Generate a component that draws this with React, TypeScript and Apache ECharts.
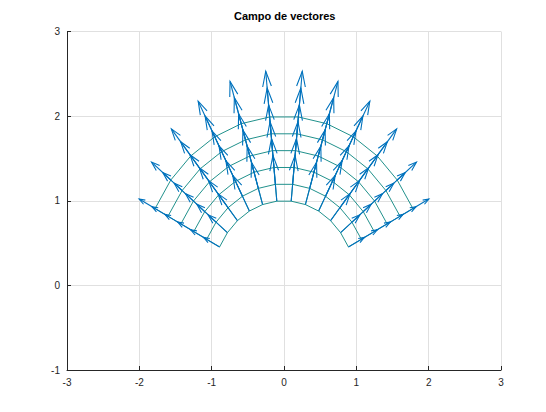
import React, { useEffect, useRef } from "react";
import * as echarts from "echarts";

// Mesh: polar grid (radius, angle in degrees)
const radii = [1, 1.2, 1.4, 1.6, 1.8, 2];
const anglesDeg = [27, 38.5, 49.9, 61.4, 72.8, 84.3, 95.7, 107.2, 118.6, 130.1, 141.5, 153];
// Arrow length (data units) for each angular column
const arrowLengths = [0.248, 0.34, 0.418, 0.479, 0.522, 0.543, 0.543, 0.522, 0.479, 0.418, 0.34, 0.248];

const titleText = "Campo de vectores";
const xRange = [-3, 3];
const yRange = [-1, 3];
const tickStep = 1;

const HEAD_LEN = 1 / 3;
const HEAD_HALF = 1 / 9;

function node(i: number, j: number): [number, number] {
  const t = (anglesDeg[i] * Math.PI) / 180;
  return [radii[j] * Math.cos(t), radii[j] * Math.sin(t)];
}

function buildMesh() {
  const out: { coords: [number, number][] }[] = [];
  for (let j = 0; j < radii.length; j++) {
    out.push({ coords: anglesDeg.map((_, i) => node(i, j)) });
  }
  for (let i = 0; i < anglesDeg.length; i++) {
    out.push({ coords: radii.map((_, j) => node(i, j)) });
  }
  return out;
}

function buildArrows() {
  const out: { coords: [number, number][] }[] = [];
  for (let i = 0; i < anglesDeg.length; i++) {
    const t = (anglesDeg[i] * Math.PI) / 180;
    const L = arrowLengths[i];
    const u = L * Math.cos(t);
    const v = L * Math.sin(t);
    for (let j = 0; j < radii.length; j++) {
      const [x, y] = node(i, j);
      const xe = x + u;
      const ye = y + v;
      out.push({ coords: [[x, y], [xe, ye]] });
      const xt = x + u * (1 - HEAD_LEN);
      const yt = y + v * (1 - HEAD_LEN);
      const a1: [number, number] = [xt + (y - ye) * HEAD_HALF, yt - (x - xe) * HEAD_HALF];
      const a2: [number, number] = [xt - (y - ye) * HEAD_HALF, yt + (x - xe) * HEAD_HALF];
      out.push({ coords: [a1, [xe, ye], a2] });
    }
  }
  return out;
}

export default function App() {
  const ref = useRef<HTMLDivElement>(null);
  useEffect(() => {
    if (!ref.current) return;
    const chart = echarts.init(ref.current, undefined, { renderer: "svg" });
    const axisCommon = {
      type: "value" as const,
      interval: tickStep,
      axisLine: { show: true, onZero: false, lineStyle: { color: "#262626", width: 1 } },
      axisTick: { show: true, inside: true, length: 4, lineStyle: { color: "#262626", width: 1 } },
      splitLine: { show: true, lineStyle: { color: "#e0e0e0", width: 1 } },
      axisLabel: { color: "#262626", fontSize: 10, fontFamily: "Liberation Sans, Arial, sans-serif" },
    };
    chart.setOption({
      animation: false,
      backgroundColor: "#ffffff",
      grid: { left: 67, right: 45, top: 31.5, bottom: 42 },
      xAxis: { ...axisCommon, min: xRange[0], max: xRange[1], axisLabel: { ...axisCommon.axisLabel, margin: 7 } },
      yAxis: { ...axisCommon, min: yRange[0], max: yRange[1], axisLabel: { ...axisCommon.axisLabel, margin: 7 } },
      graphic: [
        {
          type: "text",
          x: 284.7,
          y: 16,
          style: {
            text: titleText,
            fill: "#000000",
            font: "bold 11px 'Liberation Sans', Arial, sans-serif",
            textAlign: "center",
            textVerticalAlign: "middle",
          },
        },
      ],
      series: [
        {
          type: "lines",
          coordinateSystem: "cartesian2d",
          polyline: true,
          silent: true,
          z: 2,
          data: buildMesh(),
          lineStyle: { color: "#21918c", width: 1, opacity: 1, curveness: 0 },
        },
        {
          type: "lines",
          coordinateSystem: "cartesian2d",
          polyline: true,
          silent: true,
          z: 3,
          data: buildArrows(),
          lineStyle: { color: "#0072bd", width: 1.1, opacity: 1, curveness: 0 },
        },
      ],
    });
    return () => chart.dispose();
  }, []);
  return <div ref={ref} style={{ position: "absolute", left: 0, top: 0, width: 546, height: 412 }} />;
}
